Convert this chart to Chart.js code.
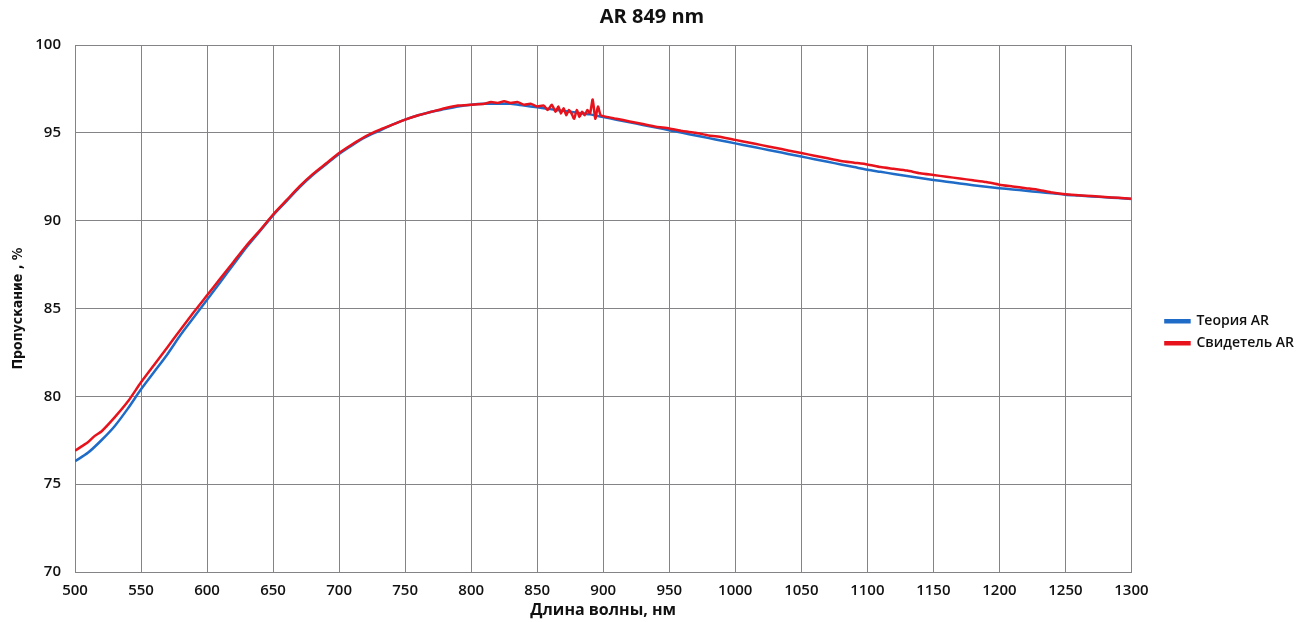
<!DOCTYPE html>
<html>
<head>
<meta charset="utf-8">
<script src="https://cdn.jsdelivr.net/npm/chart.js@4/dist/chart.umd.min.js"></script>
<style>
    html, body { margin: 0; padding: 0; background: #fff; }
    #wrap { width: 1308px; height: 622px; }
</style>
</head>
<body>
<div id="wrap"><canvas id="chart-ar"></canvas></div>
<script>
// длины волн, нм
const WL_THEORY = [500, 510, 520, 530, 540, 550, 560, 570, 580, 590, 600, 610, 620, 630, 640, 650, 660, 670, 680, 690,
    700, 710, 720, 730, 740, 750, 760, 770, 780, 790, 800, 810, 820, 830, 840, 850, 860, 870, 880, 890,
    900, 910, 920, 930, 940, 950, 960, 970, 980, 990, 1000, 1010, 1020, 1030, 1040, 1050, 1060, 1070, 1080, 1090,
    1100, 1110, 1120, 1130, 1140, 1150, 1160, 1170, 1180, 1190, 1200, 1210, 1220, 1230, 1240, 1250, 1260, 1270, 1280, 1290, 1300];
const THEORY = [76.3, 76.8, 77.5, 78.3, 79.3, 80.4, 81.4, 82.4, 83.5, 84.5, 85.5, 86.5, 87.5, 88.5, 89.4, 90.3, 91.1, 91.9, 92.6, 93.2,
    93.8, 94.3, 94.75, 95.1, 95.45, 95.75, 96.0, 96.2, 96.35, 96.5, 96.6, 96.65, 96.65, 96.65, 96.55, 96.45, 96.35, 96.25, 96.15, 96.05,
    95.9, 95.75, 95.6, 95.45, 95.3, 95.15, 95.0, 94.85, 94.7, 94.55, 94.4, 94.25, 94.1, 93.95, 93.8, 93.65, 93.5, 93.35, 93.2, 93.05,
    92.9, 92.78, 92.66, 92.54, 92.43, 92.32, 92.22, 92.12, 92.02, 91.93, 91.85, 91.78, 91.7, 91.63, 91.56, 91.48, 91.43, 91.38, 91.33, 91.29, 91.24];

const WL_SAMPLE = [500, 505, 510, 515, 520, 530, 540, 550, 560, 570, 580, 590, 600, 610, 620, 630, 640, 650, 660, 670, 680, 690,
    700, 710, 720, 730, 740, 750, 760, 770, 780, 790, 800, 810, 815, 820, 825, 830, 835, 840, 845, 850, 855,
    858, 861, 864, 866, 868, 870, 872, 874, 876, 878, 880, 882, 884, 886, 888, 890, 892, 894, 896, 898, 900,
    910, 920, 930, 940, 950, 960, 970, 980, 990, 1000, 1010, 1020, 1030, 1040, 1050, 1060, 1070, 1080, 1090,
    1100, 1110, 1120, 1130, 1140, 1150, 1160, 1170, 1180, 1190, 1200, 1210, 1220, 1230, 1240, 1250, 1260, 1270, 1280, 1290, 1300];
const SAMPLE = [76.9, 77.15, 77.4, 77.75, 78.0, 78.8, 79.7, 80.8, 81.8, 82.8, 83.8, 84.8, 85.75, 86.7, 87.65, 88.6, 89.45, 90.35, 91.15, 91.95, 92.65, 93.25,
    93.85, 94.35, 94.8, 95.15, 95.45, 95.75, 96.0, 96.2, 96.4, 96.55, 96.6, 96.65, 96.75, 96.7, 96.8, 96.7, 96.75, 96.6, 96.65, 96.5, 96.55,
    96.3, 96.6, 96.2, 96.5, 96.1, 96.4, 96.0, 96.3, 96.1, 95.8, 96.3, 95.9, 96.2, 96.0, 96.3, 96.1, 96.9, 95.8, 96.5, 96.0, 95.95,
    95.8, 95.65, 95.5, 95.35, 95.25, 95.1, 95.0, 94.85, 94.75, 94.6, 94.45, 94.3, 94.15, 94.0, 93.85, 93.7, 93.55, 93.4, 93.3,
    93.2, 93.05, 92.95, 92.85, 92.7, 92.6, 92.5, 92.4, 92.3, 92.2, 92.05, 91.95, 91.85, 91.75, 91.6, 91.5, 91.45, 91.4, 91.35, 91.3, 91.25];

function toPoints(xs, ys) {
    return xs.map(function(x, i) { return { x: x, y: ys[i] }; });
}

const GRID = '#858387';
const TICK_FONT = { family: "'Open Sans', sans-serif", size: 15, weight: '600' };

var domChart = document.getElementById('chart-ar');
new Chart(domChart, {
    type: 'line',
    data: {
        datasets: [
            {
                label: 'Теория AR',
                borderColor: '#1f6cc8',
                backgroundColor: '#1f6cc8',
                borderWidth: 2.5,
                pointRadius: 0,
                tension: 0.3,
                order: 1,
                data: toPoints(WL_THEORY, THEORY)
            },
            {
                label: 'Свидетель AR',
                borderColor: '#e8121c',
                backgroundColor: '#e8121c',
                borderWidth: 2.5,
                pointRadius: 0,
                tension: 0.2,
                order: 0,
                data: toPoints(WL_SAMPLE, SAMPLE)
            }
        ]
    },
    options: {
        responsive: true,
        maintainAspectRatio: false,
        animation: false,
        layout: { padding: { top: 0, right: 4, bottom: 0, left: 0 } },
        plugins: {
            title: {
                display: true,
                text: 'AR 849 nm',
                color: '#111',
                font: { family: "'Open Sans', sans-serif", size: 20, weight: 'bold' },
                padding: { top: 5, bottom: 16 }
            },
            legend: {
                position: 'right',
                title: { display: true, text: ' ', padding: { top: 0, bottom: 28 } },
                labels: {
                    sort: function(a, b) { return a.datasetIndex - b.datasetIndex; },
                    boxWidth: 24,
                    boxHeight: 2,
                    padding: 8,
                    color: '#111',
                    font: { family: "'Open Sans', sans-serif", size: 14, weight: '600' }
                }
            },
            tooltip: { enabled: false }
        },
        scales: {
            x: {
                type: 'linear',
                min: 500,
                max: 1300,
                afterFit: function(scale) { scale.height = 50; },
                ticks: {
                    stepSize: 50, color: '#111', font: TICK_FONT, padding: 10, maxRotation: 0,
                    callback: function(v) { return String(v); }
                },
                grid: { color: GRID, lineWidth: 1, drawTicks: false },
                border: { color: GRID },
                title: {
                    display: true,
                    text: 'Длина волны, нм',
                    color: '#111',
                    font: { family: "'Open Sans', sans-serif", size: 16, weight: 'bold' },
                    padding: { top: 0, bottom: 2 }
                }
            },
            y: {
                min: 70,
                max: 100,
                afterFit: function(scale) { scale.width = 75; },
                ticks: { stepSize: 5, color: '#111', font: TICK_FONT, padding: 14 },
                grid: { color: GRID, lineWidth: 1, drawTicks: false },
                border: { color: GRID },
                title: {
                    display: true,
                    text: 'Пропускание , %',
                    color: '#111',
                    font: { family: "'Liberation Sans Narrow', 'DejaVu Sans Condensed', sans-serif", size: 14, weight: 'bold' },
                    padding: { top: 10, bottom: 0 }
                }
            },
            // пустая ось справа: отодвигает легенду от области графика
            gap: {
                type: 'linear',
                position: 'right',
                display: true,
                afterFit: function(scale) { scale.width = 26; },
                ticks: { display: false },
                grid: { display: false },
                border: { display: false }
            }
        }
    }
});
</script>
</body>
</html>
